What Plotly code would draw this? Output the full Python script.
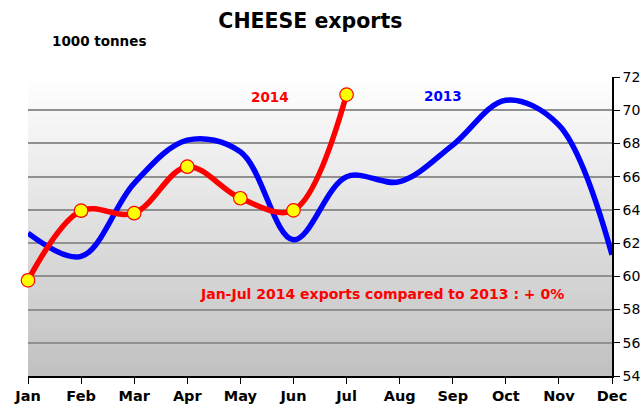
import plotly.graph_objects as go

months = ["Jan", "Feb", "Mar", "Apr", "May", "Jun", "Jul", "Aug", "Sep", "Oct", "Nov", "Dec"]
exports_2013 = [62.6, 61.2, 65.6, 68.2, 67.5, 62.2, 66.0, 65.7, 67.9, 70.6, 69.1, 61.3]
exports_2014 = [59.76, 63.95, 63.8, 66.6, 64.7, 63.97, 70.94]

x13 = list(range(len(exports_2013)))
x14 = list(range(len(exports_2014)))

fig = go.Figure()

# gradient background (white top -> grey bottom), stacked to avoid seams
n = 80
ymin, ymax = 54, 72
for i in range(n):
    y0 = ymin + (ymax - ymin) * i / n
    t = (i + 0.5) / n
    c = int(round(192 + (255 - 192) * t))
    fig.add_shape(type="rect", xref="paper", yref="y", x0=0, x1=1, y0=y0, y1=ymax,
                  fillcolor=f"rgb({c},{c},{c})", line=dict(width=0), layer="below")

fig.add_trace(go.Scatter(x=x13, y=exports_2013, mode="lines",
                         line=dict(color="#0000ff", width=5.5, shape="spline", smoothing=1),
                         hoverinfo="skip", showlegend=False))
fig.add_trace(go.Scatter(x=x14, y=exports_2014, mode="lines+markers",
                         line=dict(color="#ff0000", width=5.5, shape="spline", smoothing=1),
                         marker=dict(size=13.5, color="#ffff00", line=dict(color="#ff0000", width=1.2)),
                         cliponaxis=False, hoverinfo="skip", showlegend=False))

fnt = "DejaVu Sans, Verdana, sans-serif"

fig.add_annotation(x=4.56, y=70.8, text="<b>2014</b>", showarrow=False,
                   font=dict(family=fnt, size=13.5, color="#ff0000"))
fig.add_annotation(x=7.82, y=70.85, text="<b>2013</b>", showarrow=False,
                   font=dict(family=fnt, size=13.5, color="#0000ff"))
fig.add_annotation(x=6.67, y=58.95, text="<b>Jan-Jul 2014 exports compared to 2013 : + 0%</b>",
                   showarrow=False, font=dict(family=fnt, size=14, color="#ff0000"))
fig.add_annotation(xref="paper", yref="paper", x=0.037, y=1.119, xanchor="left", yanchor="middle",
                   text="<b>1000 tonnes</b>", showarrow=False,
                   font=dict(family=fnt, size=13.5, color="#000000"))

fig.update_layout(
    width=644, height=407,
    margin=dict(l=28, r=32, t=77, b=31),
    paper_bgcolor="white", plot_bgcolor="white",
    title=dict(text="<b>CHEESE exports</b>", x=0.482, xanchor="center", y=0.95, yanchor="middle",
               font=dict(family=fnt, size=20.5, color="#000000")),
    xaxis=dict(range=[0, 11], tickvals=x13, ticktext=[f"<b>{m}</b>" for m in months],
               showgrid=False, zeroline=False, showline=True, linecolor="black", linewidth=2,
               ticks="outside", ticklen=6, tickcolor="black", tickwidth=1, automargin=False,
               tickfont=dict(family=fnt, size=14.5, color="black")),
    yaxis=dict(range=[54, 72], dtick=2, side="right", showgrid=True, gridcolor="#909090", gridwidth=1.5,
               zeroline=False, showline=True, linecolor="black", linewidth=1.5,
               ticks="outside", ticklen=6, tickcolor="black", automargin=False,
               tickfont=dict(family=fnt, size=14, color="black")),
)

fig.write_html("out.html", config={"displayModeBar": False},
               post_script="document.body.style.margin='0px';")
